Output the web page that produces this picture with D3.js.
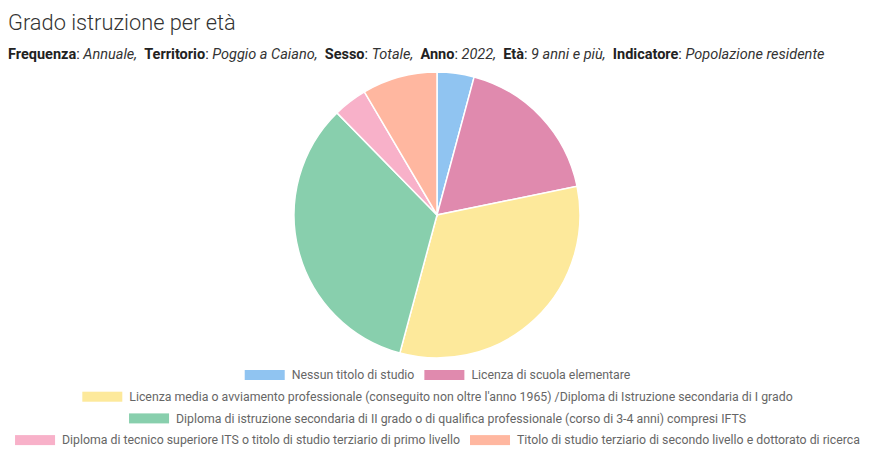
<!DOCTYPE html>
<html lang="it">
<head>
<meta charset="UTF-8">
<title>Grado istruzione per età</title>
<script src="https://d3js.org/d3.v7.min.js"></script>
<style>
  body { margin: 0; background: #fff; }
  svg { font-family: Roboto, sans-serif; }
</style>
</head>
<body>
<div id="chart"></div>
<script>
    // categories and values (residents aged 9+, Poggio a Caiano, 2022)
    const categories = [
        "Nessun titolo di studio",
        "Licenza di scuola elementare",
        "Licenza media o avviamento professionale (conseguito non oltre l'anno 1965) /Diploma di Istruzione secondaria di I grado",
        "Diploma di istruzione secondaria di II grado o di qualifica professionale (corso di 3-4 anni) compresi IFTS",
        "Diploma di tecnico superiore ITS o titolo di studio terziario di primo livello",
        "Titolo di studio terziario di secondo livello e dottorato di ricerca"
    ];
    const values = [390, 1640, 3020, 3120, 360, 790];
    const colors = ["#90c4f1", "#e08aae", "#fde99b", "#88cfad", "#f8b1c9", "#ffb7a0"];

    const filters = [
        ["Frequenza", "Annuale"],
        ["Territorio", "Poggio a Caiano"],
        ["Sesso", "Totale"],
        ["Anno", "2022"],
        ["Età", "9 anni e più"],
        ["Indicatore", "Popolazione residente"]
    ];

    const width = 875, height = 464;
    const svg = d3.select('#chart').append('svg')
        .attr('width', width)
        .attr('height', height);

    // title
    svg.append('text')
        .attr('x', 8)
        .attr('y', 30)
        .attr('font-size', '21.8px')
        .attr('font-weight', 300)
        .attr('fill', '#333')
        .text('Grado istruzione per età');

    // filter line
    const sub = svg.append('text')
        .attr('x', 8)
        .attr('y', 59)
        .attr('font-size', '14.5px')
        .attr('fill', '#222')
        .style('white-space', 'pre');
    filters.forEach((f, i) => {
        sub.append('tspan').attr('font-weight', 'bold').text(f[0]);
        sub.append('tspan').text(': ');
        sub.append('tspan').attr('font-style', 'italic').attr('fill', '#333')
            .text(f[1] + (i < filters.length - 1 ? ',' : ''));
        if (i < filters.length - 1) sub.append('tspan').text('  ');
    });

    // pie
    const cx = 437, cy = 215, radius = 143;
    const pie = d3.pie().sort(null).value(d => d);
    const arc = d3.arc().innerRadius(0).outerRadius(radius);

    svg.append('g')
        .attr('transform', `translate(${cx},${cy})`)
        .selectAll('path')
        .data(pie(values))
        .enter()
        .append('path')
        .attr('d', arc)
        .attr('fill', (d, i) => colors[i])
        .attr('stroke', '#fff')
        .attr('stroke-width', 1.5);

    // legend, wrapped into centered rows
    const boxW = 40, boxH = 10, textGap = 7, itemGap = 10, maxRow = 860;
    const legend = svg.append('g').attr('font-size', '12.3px').attr('fill', '#666');

    // measure label widths
    const widths = categories.map(c => {
        const t = legend.append('text').text(c);
        const w = t.node().getComputedTextLength();
        t.remove();
        return boxW + textGap + w;
    });

    const rows = [];
    let cur = [], curW = 0;
    widths.forEach((w, i) => {
        const add = cur.length ? itemGap + w : w;
        if (cur.length && curW + add > maxRow) {
            rows.push({ items: cur, w: curW });
            cur = [i]; curW = w;
        } else {
            cur.push(i); curW += add;
        }
    });
    if (cur.length) rows.push({ items: cur, w: curW });

    const legendTop = 375, rowH = 21.7, centerX = 437.5;
    rows.forEach((r, ri) => {
        let x = centerX - r.w / 2;
        const y = legendTop + ri * rowH;
        r.items.forEach(i => {
            legend.append('rect')
                .attr('x', x)
                .attr('y', y - boxH / 2)
                .attr('width', boxW)
                .attr('height', boxH)
                .attr('fill', colors[i]);
            legend.append('text')
                .attr('x', x + boxW + textGap)
                .attr('y', y)
                .attr('dy', '0.35em')
                .text(categories[i]);
            x += widths[i] + itemGap;
        });
    });
</script>
</body>
</html>
